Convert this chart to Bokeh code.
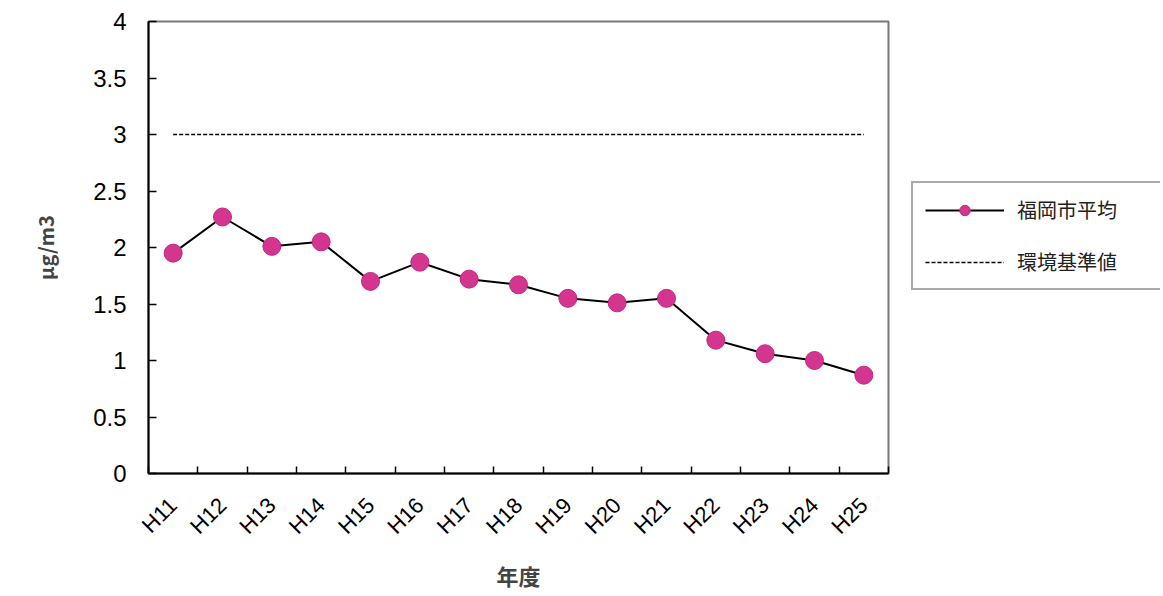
import math
from bokeh.plotting import figure
from bokeh.layouts import row
from bokeh.models import FixedTicker, Legend, LegendItem, Range1d
from bokeh.embed import file_html
from bokeh.resources import INLINE

years = ["H11", "H12", "H13", "H14", "H15", "H16", "H17", "H18", "H19", "H20",
         "H21", "H22", "H23", "H24", "H25"]
fukuoka_avg = [1.95, 2.27, 2.01, 2.05, 1.70, 1.87, 1.72, 1.67, 1.55, 1.51,
               1.55, 1.18, 1.06, 1.00, 0.87]
standard = [3.0] * len(years)
y_ticks = [0, 0.5, 1, 1.5, 2, 2.5, 3, 3.5, 4]
y_tick_labels = ["0", "0.5", "1", "1.5", "2", "2.5", "3", "3.5", "4"]
series_names = ["福岡市平均", "環境基準値"]

xs = [i + 0.5 for i in range(len(years))]

MARK_FILL = "#d4358e"
MARK_LINE = "#c02880"
H = 593

p = figure(width=893, height=H, output_backend="svg", toolbar_location=None,
           x_range=Range1d(0, len(years)), y_range=Range1d(0, 4),
           min_border_left=148, min_border_right=5, min_border_top=21,
           min_border_bottom=115)
p.grid.visible = False
p.outline_line_color = "#777777"
p.outline_line_width = 2
p.background_fill_color = "white"
p.border_fill_color = "white"

p.line(xs, standard, line_color="black", line_width=1.5, line_dash="4 2")
p.line(xs, fukuoka_avg, line_color="black", line_width=2)
p.scatter(xs, fukuoka_avg, size=18, fill_color=MARK_FILL, line_color=MARK_LINE,
          line_width=1)

# x axis
p.xaxis.ticker = FixedTicker(ticks=xs, minor_ticks=list(range(len(years) + 1)))
p.xaxis.major_label_overrides = {x: y for x, y in zip(xs, years)}
p.xaxis.major_tick_in = 0
p.xaxis.major_tick_out = 0
p.xaxis.minor_tick_in = 7
p.xaxis.minor_tick_out = 0
p.xaxis.minor_tick_line_color = "black"
p.xaxis.minor_tick_line_width = 1.5
p.xaxis.major_label_orientation = math.pi / 4
p.xaxis.major_label_text_font = "Liberation Sans"
p.xaxis.major_label_text_font_size = "22px"
p.xaxis.major_label_text_color = "black"
p.xaxis.major_label_standoff = 28
p.xaxis.axis_label = "年度"
p.xaxis.axis_label_text_font = "Noto Sans CJK JP"
p.xaxis.axis_label_text_font_style = "bold"
p.xaxis.axis_label_text_font_size = "22px"
p.xaxis.axis_label_standoff = 8
p.xaxis.axis_line_color = "black"
p.xaxis.axis_line_width = 2

# y axis
p.yaxis.ticker = FixedTicker(ticks=y_ticks, minor_ticks=[])
p.yaxis.major_label_overrides = {t: l for t, l in zip(y_ticks, y_tick_labels)}
p.yaxis.major_tick_in = 8
p.yaxis.major_tick_out = 0
p.yaxis.major_tick_line_color = "black"
p.yaxis.major_tick_line_width = 1.5
p.yaxis.major_label_text_font = "Liberation Sans"
p.yaxis.major_label_text_font_size = "24px"
p.yaxis.major_label_text_color = "black"
p.yaxis.major_label_standoff = 22
p.yaxis.axis_label = "μg/m3"
p.yaxis.axis_label_text_font = "Noto Sans CJK JP"
p.yaxis.axis_label_text_font_style = "bold"
p.yaxis.axis_label_text_font_size = "20px"
p.yaxis.axis_label_standoff = 30
p.yaxis.axis_line_color = "black"
p.yaxis.axis_line_width = 2

# legend holder figure (its frame is aligned with the main plot's frame)
p2 = figure(width=267, height=H, output_backend="svg", toolbar_location=None,
            x_range=Range1d(0, 1), y_range=Range1d(0, 1),
            x_axis_type=None, y_axis_type=None,
            min_border=0)
p2.grid.visible = False
p2.outline_line_color = None
p2.border_fill_color = "white"
nan = [float("nan")]
l_line = p2.line(nan, nan, line_color="black", line_width=2)
l_pts = p2.scatter(nan, nan, size=13, fill_color=MARK_FILL, line_color=MARK_LINE,
                   line_width=1)
l_std = p2.line(nan, nan, line_color="black", line_width=1.5, line_dash="4 2")

legend = Legend(items=[LegendItem(label=series_names[0], renderers=[l_line, l_pts]),
                       LegendItem(label=series_names[1], renderers=[l_std])],
                location=(18, 183), orientation="vertical", margin=0,
                label_text_font="Noto Sans CJK JP", label_text_font_size="20px",
                label_text_color="#222222",
                glyph_width=79, glyph_height=26, label_height=26, label_width=131,
                spacing=23, padding=12, label_standoff=13,
                border_line_color="#555555", border_line_width=2,
                background_fill_color="white", background_fill_alpha=1)
p2.add_layout(legend)

layout = row(p, p2)
open("out.html", "w").write(file_html(layout, INLINE))
